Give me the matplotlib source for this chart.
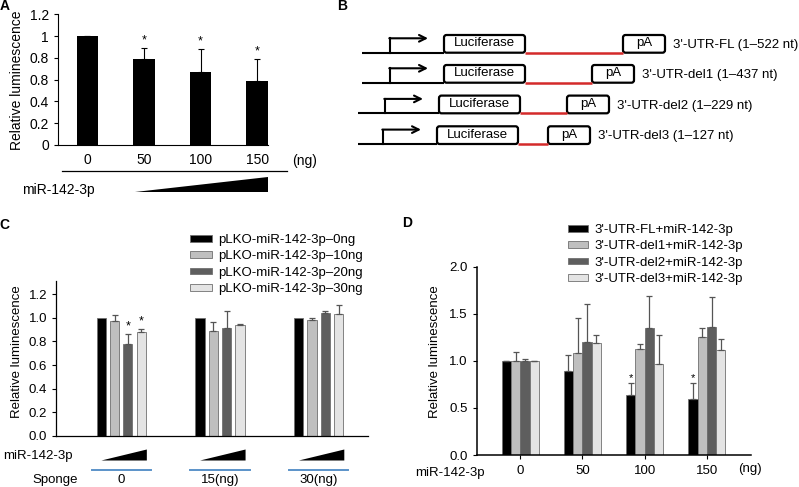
import matplotlib
matplotlib.use("Agg")
import matplotlib.pyplot as plt
import matplotlib.transforms as mtrans
from matplotlib.patches import FancyBboxPatch, Polygon
import numpy as np

plt.rcParams['font.family'] = ['Liberation Sans', 'DejaVu Sans']
plt.rcParams['font.size'] = 9.5

W, H = 799, 487

# ---- panel A data
doses_a = ['0', '50', '100', '150']
lum_a = [1.0, 0.79, 0.67, 0.59]
err_a = [0.0, 0.10, 0.21, 0.20]
sig_a = [False, True, True, True]
yticks_a = [0, 0.2, 0.4, 0.6, 0.8, 1.0, 1.2]
yticklabels_a = ['0', '0.2', '0.4', '0.8', '0.8', '1', '1.2']

# ---- panel B constructs
constructs = ["3'-UTR-FL (1–522 nt)", "3'-UTR-del1 (1–437 nt)",
              "3'-UTR-del2 (1–229 nt)", "3'-UTR-del3 (1–127 nt)"]

# ---- panel C data
sponge = ['0', '15(ng)', '30(ng)']
series_c = ['pLKO-miR-142-3p–0ng', 'pLKO-miR-142-3p–10ng',
            'pLKO-miR-142-3p–20ng', 'pLKO-miR-142-3p–30ng']
c_0ng = [1.0, 1.0, 1.0]
c_10ng = [0.975, 0.886, 0.98]
c_20ng = [0.78, 0.912, 1.044]
c_30ng = [0.878, 0.94, 1.033]
c_err_0ng = [0.0, 0.0, 0.0]
c_err_10ng = [0.048, 0.08, 0.022]
c_err_20ng = [0.084, 0.15, 0.012]
c_err_30ng = [0.029, 0.005, 0.074]
sig_c = [(2, 0), (3, 0)]  # (series, group) with asterisk

# ---- panel D data
doses_d = ['0', '50', '100', '150']
series_d = ["3'-UTR-FL+miR-142-3p", "3'-UTR-del1+miR-142-3p",
            "3'-UTR-del2+miR-142-3p", "3'-UTR-del3+miR-142-3p"]
d_fl = [1.0, 0.89, 0.634, 0.595]
d_del1 = [1.0, 1.08, 1.127, 1.258]
d_del2 = [1.0, 1.196, 1.35, 1.36]
d_del3 = [1.0, 1.192, 0.963, 1.116]
d_err_fl = [0.0, 0.172, 0.127, 0.173]
d_err_del1 = [0.092, 0.378, 0.052, 0.087]
d_err_del2 = [0.016, 0.404, 0.338, 0.32]
d_err_del3 = [0.0, 0.078, 0.313, 0.112]
sig_d = [(0, 2), (0, 3)]

colors = ['#000000', '#bfbfbf', '#5e5e5e', '#e4e4e4']

fig = plt.figure(figsize=(W / 100, H / 100), dpi=100)


def px_axes(l, t, r, b):
    ax = fig.add_axes([l / W, 1 - b / H, (r - l) / W, (b - t) / H])
    ax.patch.set_visible(False)
    for s in ['top', 'right']:
        ax.spines[s].set_visible(False)
    return ax


# overlay in pixel coords (y down) for labels and the schematic
ov = fig.add_axes([0, 0, 1, 1])
ov.set_xlim(0, W)
ov.set_ylim(H, 0)
ov.axis('off')
ov.set_zorder(10)
ov.patch.set_visible(False)

# ================= A
axA = px_axes(58, 14.3, 268, 145)
xa = np.arange(len(doses_a))
axA.bar(xa, lum_a, width=0.38, color='black')
axA.errorbar(xa, lum_a, yerr=[np.zeros(len(err_a)), err_a], fmt='none',
             ecolor='black', elinewidth=0.8, capsize=2.2, capthick=0.8)
for i in range(len(doses_a)):
    if sig_a[i]:
        axA.annotate('*', (xa[i], lum_a[i] + err_a[i]), xytext=(0, 1),
                     textcoords='offset points', ha='center', va='bottom', fontsize=9)
axA.set_xlim(-0.52, 3.19)
axA.set_ylim(0, 1.2)
axA.set_yticks(yticks_a)
axA.set_yticklabels(yticklabels_a, fontsize=10)
axA.set_xticks(xa)
axA.set_xticklabels(doses_a, fontsize=10)
axA.tick_params(axis='x', length=0, pad=6)
axA.tick_params(axis='y', length=3, width=0.8)
for s in ['left', 'bottom']:
    axA.spines[s].set_linewidth(0.8)
ov.text(17, 80, 'Relative luminescence', rotation=90, ha='center', va='center', fontsize=10)
ov.text(292, 161, '(ng)', ha='left', va='center', fontsize=10)
ov.plot([62, 287], [171, 171], color='black', lw=0.9)
ov.add_patch(Polygon([(135, 192), (268, 177), (268, 192)], closed=True, color='black', lw=0))
ov.text(22, 190, 'miR-142-3p', ha='left', va='center', fontsize=10)

# ================= B
rows_b = [  # baseline y, line start, luciferase left, red length
    (52.7, 361.7, 444, 98),
    (82.7, 361.7, 444, 67),
    (113.3, 358, 439, 47),
    (144, 358, 437, 30),
]
box_h = 17.7
for (yb, x0, lx, red), name in zip(rows_b, constructs):
    ax_ = lx - 54
    ov.plot([x0, lx], [yb, yb], color='black', lw=1.5, solid_capstyle='butt')
    ov.plot([ax_, ax_], [yb, yb - 14.4], color='black', lw=1.5)
    ov.annotate('', xy=(ax_ + 38, yb - 14.4), xytext=(ax_ - 0.7, yb - 14.4),
                arrowprops=dict(arrowstyle='->', lw=1.5, color='black',
                                shrinkA=0, shrinkB=0, mutation_scale=12))
    lr = lx + 81
    ov.plot([lr, lr + red], [yb, yb], color='#d42a2a', lw=1.8, solid_capstyle='butt')
    for bx, bw, lab in [(lx, 81, 'Luciferase'), (lr + red, 42, 'pA')]:
        ov.add_patch(FancyBboxPatch((bx, yb - box_h), bw, box_h,
                                    boxstyle='round,pad=0,rounding_size=2.5',
                                    fc='white', ec='black', lw=1.6))
        ov.text(bx + bw / 2, yb - box_h / 2 - 0.5, lab, ha='center', va='center', fontsize=9.5)
    ov.text(lr + red + 50, yb - 7.5, name, ha='left', va='center', fontsize=9.5)

# ================= C
axC = px_axes(56, 280.7, 368, 435.7)
xc = np.arange(len(sponge))
vals_c = [c_0ng, c_10ng, c_20ng, c_30ng]
errs_c = [c_err_0ng, c_err_10ng, c_err_20ng, c_err_30ng]
bw_c = 0.094
hc = []
for k in range(4):
    pos = xc + (k - 1.5) * 0.135
    b = axC.bar(pos, vals_c[k], width=bw_c, color=colors[k], edgecolor='#707070',
                lw=0.6, label=series_c[k])
    hc.append(b)
    if any(e > 0 for e in errs_c[k]):
        axC.errorbar(pos, vals_c[k], yerr=[np.zeros(3), errs_c[k]], fmt='none',
                     ecolor='#555555', elinewidth=0.9, capsize=2.2, capthick=0.9)
for k, g in sig_c:
    axC.annotate('*', (xc[g] + (k - 1.5) * 0.135, vals_c[k][g] + errs_c[k][g]),
                 xytext=(0, 1), textcoords='offset points', ha='center', va='bottom', fontsize=9)
axC.set_xlim(-0.66, 2.5)
axC.set_ylim(0, 1.316)
axC.set_yticks(np.arange(0, 1.21, 0.2))
axC.set_yticklabels(['%.1f' % v for v in np.arange(0, 1.21, 0.2)], fontsize=9.5)
axC.set_xticks([])
axC.tick_params(axis='y', length=3, width=0.8)
for s in ['left', 'bottom']:
    axC.spines[s].set_linewidth(0.9)
axC.legend(handles=hc, bbox_to_anchor=(190, 234), bbox_transform=ov.transData,
           loc='upper left', frameon=False, borderpad=0, borderaxespad=0,
           handlelength=1.67, handleheight=0.4, handletextpad=0.45,
           labelspacing=0.33, fontsize=9.5)
ov.text(17, 351.5, 'Relative luminescence', rotation=90, ha='center', va='center', fontsize=9.5)
bt = mtrans.blended_transform_factory(axC.transData, ov.transData)
for g in range(len(sponge)):
    ov.add_patch(Polygon([(xc[g] - 0.2, 460.5), (xc[g] + 0.26, 449.5), (xc[g] + 0.26, 460.5)],
                         closed=True, color='black', lw=0, transform=bt))
    ov.plot([xc[g] - 0.3, xc[g] + 0.3], [469.5, 469.5], color='#5b93c9', lw=1.4, transform=bt)
    ov.text(xc[g], 480, sponge[g], ha='center', va='center', fontsize=9.5, transform=bt)
ov.text(3, 456.5, 'miR-142-3p', ha='left', va='center', fontsize=9.5)
ov.text(32, 480, 'Sponge', ha='left', va='center', fontsize=9.5)

# ================= D
axD = px_axes(476.7, 266.7, 751, 455)
xd = np.arange(len(doses_d))
vals_d = [d_fl, d_del1, d_del2, d_del3]
errs_d = [d_err_fl, d_err_del1, d_err_del2, d_err_del3]
hd = []
for k in range(4):
    pos = xd + (k - 1.5) * 0.15
    b = axD.bar(pos, vals_d[k], width=0.15, color=colors[k], edgecolor='#707070',
                lw=0.6, label=series_d[k])
    hd.append(b)
    if any(e > 0 for e in errs_d[k]):
        axD.errorbar(pos, vals_d[k], yerr=[np.zeros(4), errs_d[k]], fmt='none',
                     ecolor='#555555', elinewidth=0.9, capsize=2.2, capthick=0.9)
for k, g in sig_d:
    axD.annotate('*', (xd[g] + (k - 1.5) * 0.15, vals_d[k][g] + errs_d[k][g]),
                 xytext=(0, 0), textcoords='offset points', ha='center', va='bottom', fontsize=8)
axD.set_xlim(-0.70, 3.71)
axD.set_ylim(0, 2.0)
axD.set_yticks([0, 0.5, 1.0, 1.5, 2.0])
axD.set_yticklabels(['0.0', '0.5', '1.0', '1.5', '2.0'], fontsize=9.5)
axD.set_xticks(xd)
axD.set_xticklabels(doses_d, fontsize=9.5)
axD.tick_params(axis='x', length=3, width=0.8, pad=4)
axD.tick_params(axis='y', length=3, width=0.8)
for s in ['left', 'bottom']:
    axD.spines[s].set_linewidth(1.1)
axD.legend(handles=hd, bbox_to_anchor=(568, 224), bbox_transform=ov.transData,
           loc='upper left', frameon=False, borderpad=0, borderaxespad=0,
           handlelength=1.5, handleheight=0.4, handletextpad=0.5,
           labelspacing=0.33, fontsize=9.5)
ov.text(435, 352, 'Relative luminescence', rotation=90, ha='center', va='center', fontsize=9.5)
ov.text(415, 473, 'miR-142-3p', ha='left', va='center', fontsize=9.5)
ov.text(738, 469, '(ng)', ha='left', va='center', fontsize=9.5)

# panel letters
for lab, x, y in [('A', 5, 6), ('B', 342, 6), ('C', 4, 225), ('D', 407, 223)]:
    ov.text(x, y, lab, ha='center', va='center', fontsize=10, fontweight='bold')

fig.savefig('out.png', dpi=100)
